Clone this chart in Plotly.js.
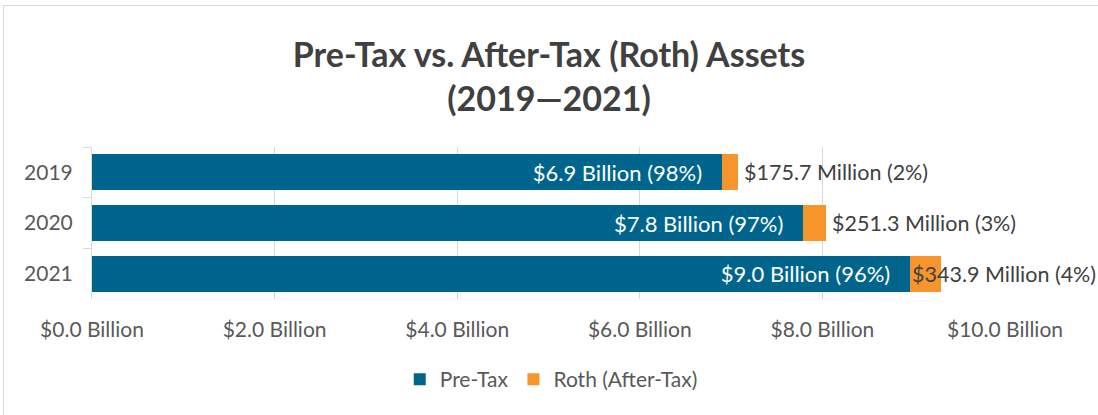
<!DOCTYPE html>
<html>
<head>
<meta charset="utf-8">
<script src="https://cdn.plot.ly/plotly-3.0.1.min.js"></script>
<style>
  html, body { margin: 0; padding: 0; background: #ffffff; }
  #wrap { position: relative; width: 1098px; height: 415px; overflow: hidden; }
  #chart { width: 1098px; height: 415px; }
  #frame { position: absolute; left: 3px; top: 5px; width: 1110px; height: 430px;
           border: 1px solid #d9d9d9; pointer-events: none; }
</style>
</head>
<body>
<div id="wrap">
  <div id="chart"></div>
  <div id="frame"></div>
</div>
<script>
// ---- data ----
const years = ["2019", "2020", "2021"];
const preTax = [6.9, 7.79, 8.96];          // $ billion
const roth = [0.1757, 0.2513, 0.3439];     // $ billion
const preTaxLabels = ["$6.9 Billion (98%)", "$7.8 Billion (97%)", "$9.0 Billion (96%)"];
const rothLabels = ["$175.7 Million (2%)", "$251.3 Million (3%)", "$343.9 Million (4%)"];
const xTicks = [0, 2, 4, 6, 8, 10];
const xTickLabels = ["$0.0 Billion", "$2.0 Billion", "$4.0 Billion", "$6.0 Billion", "$8.0 Billion", "$10.0 Billion"];

const FONT = "Lato, 'Open Sans', sans-serif";
const xMax = 10;
const PAD = "\u00a0\u00a0\u00a0";

const traces = [
  {
    type: "bar", orientation: "h", name: "Pre-Tax",
    y: years, x: preTax,
    marker: { color: "#00658D" },
    text: preTaxLabels.map(t => t + PAD), textposition: "inside", insidetextanchor: "end",
    textfont: { family: FONT, size: 22, color: "#ffffff" },
    hoverinfo: "none"
  },
  {
    type: "bar", orientation: "h", name: "Roth (After-Tax)",
    y: years, x: roth,
    marker: { color: "#F7952D" },
    hoverinfo: "none"
  }
];

// Roth labels: to the right of the bar end; when that would overflow, start at the pre-tax end
const annotations = years.map((y, i) => {
  const total = preTax[i] + roth[i];
  const fits = total + 1.5 <= xMax;
  return {
    x: fits ? total : preTax[i], y: i, xref: "x", yref: "y",
    text: rothLabels[i], showarrow: false,
    xanchor: "left", xshift: fits ? 4 : 0,
    font: { family: FONT, size: 21.5, color: "#404040" }
  };
});

const layout = {
  width: 1098, height: 415,
  margin: { l: 92, r: 93, t: 147, b: 116 },
  paper_bgcolor: "#ffffff", plot_bgcolor: "#ffffff",
  title: {
    text: "<b>Pre-Tax vs. After-Tax (Roth) Assets<br>(2019\u20142021)</b>",
    font: { family: FONT, size: 34, color: "#404040" },
    x: 0.5, xanchor: "center", y: 0.839, yanchor: "middle"
  },
  barmode: "stack", bargap: 0.29,
  xaxis: {
    range: [0, xMax], tickvals: xTicks, ticktext: xTickLabels,
    showgrid: true, gridcolor: "#d9d9d9", gridwidth: 1,
    zeroline: false, showline: false, ticks: "",
    tickfont: { family: FONT, size: 21, color: "#595959" },
    ticklabelstandoff: 16, fixedrange: true
  },
  yaxis: {
    type: "category", categoryorder: "array", categoryarray: years,
    range: [2.5, -0.5],
    showline: true, linecolor: "#d9d9d9", linewidth: 1,
    ticks: "outside", tickson: "boundaries", ticklen: 8, tickcolor: "#d9d9d9",
    showgrid: false, zeroline: false,
    tickfont: { family: FONT, size: 21, color: "#595959" },
    ticklabelstandoff: 14, fixedrange: true
  },
  showlegend: true,
  legend: {
    orientation: "h", x: 0.503, xanchor: "center", y: -0.53, yanchor: "middle",
    font: { family: FONT, size: 21, color: "#595959" },
    traceorder: "normal", itemwidth: 30
  },
  annotations: annotations
};

Plotly.newPlot("chart", traces, layout, { displayModeBar: false, staticPlot: true });
</script>
</body>
</html>
